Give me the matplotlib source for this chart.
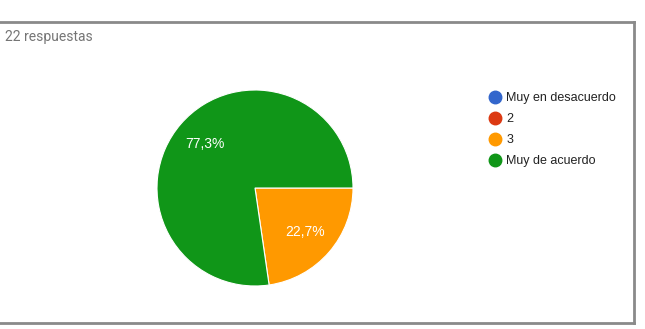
import matplotlib.pyplot as plt
from matplotlib.lines import Line2D

plt.rcParams['font.family'] = ['Liberation Sans', 'DejaVu Sans']

categories = ['Muy en desacuerdo', '2', '3', 'Muy de acuerdo']
percentages = [0.0, 0.0, 22.7, 77.3]
total_label = '22 respuestas'
colors = ['#3366cc', '#dc3912', '#ff9900', '#109618']


def fmt_pct(p):
    if p < 0.5:
        return ''
    return f'{p:.1f}%'.replace('.', ',')


fig = plt.figure(figsize=(6.45, 3.29), dpi=100)
fig.patch.set_facecolor('white')

# card frame (top, right, bottom edges)
frame_kw = dict(color='#8a8a8a', lw=2.0, transform=fig.transFigure)
y_top = 1 - 22 / 329
y_bot = 1 - 323 / 329
x_right = 634 / 645
fig.add_artist(Line2D([0, x_right], [y_top, y_top], **frame_kw))
fig.add_artist(Line2D([x_right, x_right], [y_top, y_bot], **frame_kw))
fig.add_artist(Line2D([0, x_right], [y_bot, y_bot], **frame_kw))

fig.text(5 / 645, 1 - 37 / 329, total_label, fontsize=10, color='#757575',
         va='center', ha='left', family=['Roboto', 'DejaVu Sans'])

ax = fig.add_axes([157 / 645, (329 - 286) / 329, 196 / 645, 196 / 329])
wedges, texts, autotexts = ax.pie(
    percentages, colors=colors, startangle=0, counterclock=False,
    autopct=fmt_pct, pctdistance=0.68,
    wedgeprops=dict(edgecolor='white', linewidth=0.8),
    textprops=dict(color='white', fontsize=10))
ax.set_xlim(-1.0, 1.0)
ax.set_ylim(-1.0, 1.0)
ax.set_aspect('equal')

handles = [Line2D([], [], marker='o', linestyle='', markersize=9,
                  markerfacecolor=c, markeredgecolor=c) for c in colors]
fig.legend(handles, categories, loc='upper left',
           bbox_to_anchor=(482 / 645, 1 - 86 / 329), frameon=False,
           fontsize=9, labelcolor='#222222', handletextpad=0.45,
           labelspacing=0.72, handlelength=1.0, borderpad=0)

fig.savefig('out.png', dpi=100)
